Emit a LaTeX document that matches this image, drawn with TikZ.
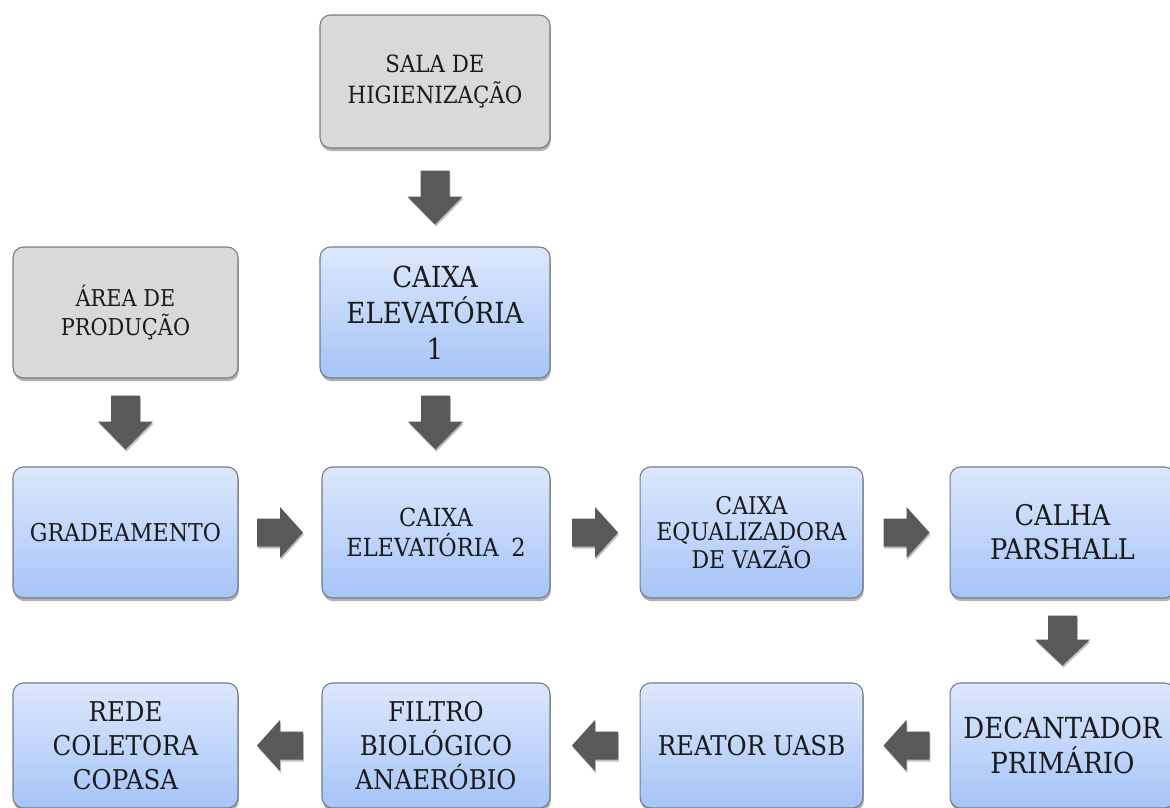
\documentclass[tikz,border=0pt]{standalone}
\usepackage{fontspec}
\setmainfont{DejaVu Serif Condensed}
\usetikzlibrary{shadows,calc}
\definecolor{btop}{HTML}{DCE8FC}
\definecolor{bbot}{HTML}{A6C4F8}
\definecolor{gfill}{HTML}{D9D9D9}
\definecolor{bord}{HTML}{737B88}
\definecolor{arr}{HTML}{595959}
\definecolor{txt}{HTML}{1A1A1A}
\tikzset{
  box/.style={rounded corners=0.21cm, draw=bord, line width=0.6pt, align=center, text=txt,
    inner sep=0pt,
    drop shadow={shadow xshift=0.5pt, shadow yshift=-1.8pt, opacity=0.3, fill=black}},
  bluebox/.style={box, top color=btop, bottom color=bbot},
  graybox/.style={box, fill=gfill},
  arrowfill/.style={fill=arr, drop shadow={shadow xshift=0.5pt, shadow yshift=-1.2pt, opacity=0.25, fill=black}},
}
\newcommand\fsz[2]{\fontsize{#1}{#2}\selectfont}
% #1 start anchor, #2 end anchor, #3 angle, #4 half length, #5 head length, #6 head half width, #7 shaft half width
\newcommand\blkarrow[7]{%
  \path ($(#1)!0.5!(#2)$) coordinate (m);
  \fill[arrowfill, shift={(m)}, rotate=#3]
    ({-#4},{-#7}) -- ({#4-#5},{-#7}) -- ({#4-#5},{-#6}) -- ({#4},0) -- ({#4-#5},{#6}) -- ({#4-#5},{#7}) -- ({-#4},{#7}) -- cycle;}
\begin{document}
\begin{tikzpicture}[x=0.02cm, y=-0.02cm]
\useasboundingbox (0,0) rectangle (1170,808);
\fill[white] (0,0) rectangle (1170,808);
% row 1
\node[graybox, minimum width=4.6cm, minimum height=2.66cm, font=\fsz{13.5}{18}] (sala) at (435,81.5)
  {SALA DE\\HIGIENIZAÇÃO};
% row 2
\node[graybox, minimum width=4.5cm, minimum height=2.62cm, font=\fsz{13.2}{17}] (area) at (125.5,312.5)
  {ÁREA DE\\PRODUÇÃO};
\node[bluebox, minimum width=4.6cm, minimum height=2.62cm, font=\fsz{16.5}{20.5}] (cx1) at (435,312.5)
  {CAIXA\\ELEVATÓRIA\\1};
% row 3
\node[bluebox, minimum width=4.5cm, minimum height=2.62cm, font=\fsz{14}{17}] (grad) at (125.5,532.5)
  {GRADEAMENTO};
\node[bluebox, minimum width=4.56cm, minimum height=2.62cm, font=\fsz{14.2}{17}] (cx2) at (436,532.5)
  {CAIXA\\ELEVATÓRIA\enspace 2};
\node[bluebox, minimum width=4.46cm, minimum height=2.62cm, font=\fsz{13.9}{14.8}] (eq) at (751.5,532.5)
  {CAIXA\\EQUALIZADORA\\DE VAZÃO};
\node[bluebox, minimum width=4.5cm, minimum height=2.62cm, font=\fsz{16.2}{19.5}] (calha) at (1062.5,532.5)
  {CALHA\\PARSHALL};
% row 4
\node[bluebox, minimum width=4.5cm, minimum height=2.5cm, font=\fsz{15.5}{19.3}] (rede) at (125.5,745.5)
  {REDE\\COLETORA\\COPASA};
\node[bluebox, minimum width=4.56cm, minimum height=2.5cm, font=\fsz{15.5}{19.3}] (filtro) at (436,745.5)
  {FILTRO\\BIOLÓGICO\\ANAERÓBIO};
\node[bluebox, minimum width=4.46cm, minimum height=2.5cm, font=\fsz{15.5}{19.3}] (reator) at (751.5,745.5)
  {REATOR UASB};
\node[bluebox, minimum width=4.5cm, minimum height=2.5cm, font=\fsz{16.5}{20}] (dec) at (1062.5,745.5)
  {DECANTADOR\\PRIMÁRIO};
% arrows
\blkarrow{sala.south}{cx1.north}{-90}{27}{28}{27.5}{14.5}
\blkarrow{area.south}{grad.north}{-90}{27}{28}{27.5}{14.5}
\blkarrow{cx1.south}{cx2.north}{-90}{27}{28}{27.5}{14.5}
\blkarrow{grad.east}{cx2.west}{0}{23}{23}{25.5}{14}
\blkarrow{cx2.east}{eq.west}{0}{23}{23}{25.5}{14}
\blkarrow{eq.east}{calha.west}{0}{23}{23}{25.5}{14}
\blkarrow{calha.south}{dec.north}{-90}{25}{26}{27.5}{14.5}
\blkarrow{dec.west}{reator.east}{180}{23}{23}{25.5}{14}
\blkarrow{reator.west}{filtro.east}{180}{23}{23}{25.5}{14}
\blkarrow{filtro.west}{rede.east}{180}{23}{23}{25.5}{14}
\end{tikzpicture}
\end{document}
